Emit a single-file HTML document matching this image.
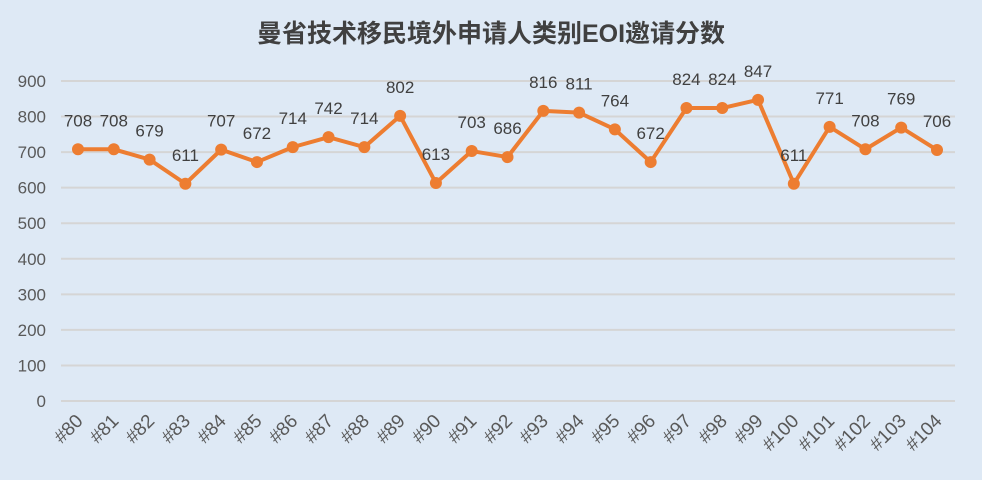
<!DOCTYPE html>
<html><head><meta charset="utf-8"><style>
body{margin:0;background:#dee9f5;}
svg{display:block;font-family:"Liberation Sans","Noto Sans CJK SC",sans-serif;}
</style></head><body>
<svg width="982" height="480">
<rect width="982" height="480" fill="#dee9f5"/>
<text x="491" y="42" text-anchor="middle" font-size="25" font-weight="bold" fill="#404040">曼省技术移民境外申请人类别EOI邀请分数</text>
<g id="grid"></g><g id="yt"></g><g id="xt"></g><g id="series"></g><g id="labels"></g>
</svg>
<script>
const categories=["#80","#81","#82","#83","#84","#85","#86","#87","#88","#89","#90","#91","#92","#93","#94","#95","#96","#97","#98","#99","#100","#101","#102","#103","#104"];
const scores=[708,708,679,611,707,672,714,742,714,802,613,703,686,816,811,764,672,824,824,847,611,771,708,769,706];
const yTicks=[0,100,200,300,400,500,600,700,800,900];
const NS="http://www.w3.org/2000/svg";
const x0=78,x1=937,yB=401,yT=81,yMax=900;
const xs=i=>x0+(x1-x0)*i/(categories.length-1);
const ys=v=>yB-(yB-yT)*v/yMax;
function mk(t,a,p){const e=document.createElementNS(NS,t);for(const k in a)e.setAttribute(k,a[k]);document.getElementById(p).appendChild(e);return e;}
yTicks.forEach(v=>{
 const l=mk('line',{x1:61,x2:955,y1:ys(v),y2:ys(v),stroke:'#d5d5d5','stroke-width':2},'grid');
 
 
 const t=mk('text',{x:46,y:ys(v)+6,'text-anchor':'end','font-size':17,fill:'#595959'},'yt');t.textContent=v;
 
 
});
categories.forEach((c,i)=>{
 const x=xs(i)+6,y=422;
 const t=mk('text',{x:x,y:y,'text-anchor':'end','font-size':19,fill:'#595959',transform:`rotate(-45 ${x} ${y})`},'xt');t.textContent=c;
 
 
});
const pl=mk('polyline',{points:scores.map((v,i)=>xs(i)+','+ys(v)).join(' '),fill:'none',stroke:'#ed7d31','stroke-width':4,'stroke-linejoin':'round'},'series');


scores.forEach((v,i)=>{
 const c=mk('circle',{cx:xs(i),cy:ys(v),r:6,fill:'#ed7d31'},'series');
 
 
 const t=mk('text',{x:xs(i),y:ys(v)-23,'text-anchor':'middle','font-size':17,fill:'#404040'},'labels');t.textContent=v;
 
 
});
</script>
</body></html>
